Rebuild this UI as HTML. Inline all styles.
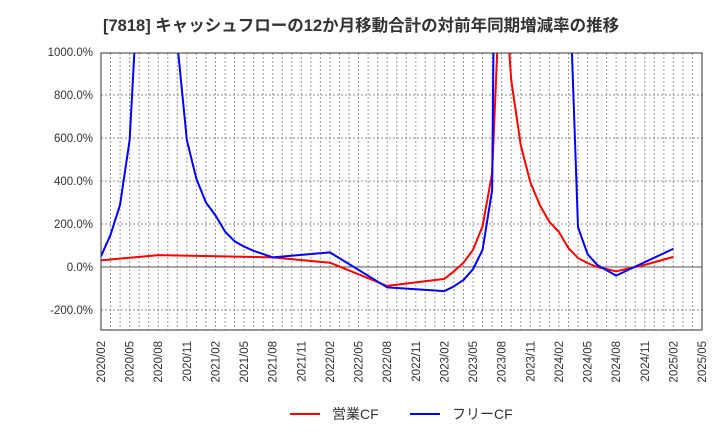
<!DOCTYPE html>
<html><head><meta charset="utf-8"><style>
body{margin:0;background:#fff;}
svg{display:block;font-family:"Liberation Sans","Noto Sans CJK JP",sans-serif;}
</style></head><body>
<svg id="c" width="720" height="440">
<text x="103" y="31" text-anchor="start" font-size="16.5" font-weight="bold" fill="#333">[7818]  キャッシュフローの12か月移動合計の対前年同期増減率の推移</text>
<defs><clipPath id="clip"><rect x="101" y="53" width="601" height="277"/></clipPath></defs>
<g id="grid"></g>
<g id="series" clip-path="url(#clip)"></g>
<rect x="101" y="53" width="601" height="277" fill="none" stroke="#333" stroke-width="1"/>
<g id="axes"></g>
<g>
<line x1="290" y1="414" x2="320" y2="414" stroke="#f00" stroke-width="2"/>
<text x="332" y="419" font-size="14" fill="#333">営業CF</text>
<line x1="410" y1="414" x2="440" y2="414" stroke="#00f" stroke-width="2"/>
<text x="452" y="419" font-size="14" fill="#333">フリーCF</text>
</g>
</svg>
<script>
const yTicks=[1000,800,600,400,200,0,-200];
const yTickLabels=["1000.0%","800.0%","600.0%","400.0%","200.0%","0.0%","-200.0%"];
const xTickLabels=["2020/02","2020/05","2020/08","2020/11","2021/02","2021/05","2021/08","2021/11","2022/02","2022/05","2022/08","2022/11","2023/02","2023/05","2023/08","2023/11","2024/02","2024/05","2024/08","2024/11","2025/02","2025/05"];
// month indices from 2020/02
const opIdx=[0,6,18,24,30,36,37,38,39,40,41,42,43,44,45,46,47,48,49,50,51,52,53,54,57,60];
const opVal=[31,55,45,20,-88,-55,-20,20,80,190,437,1500,870,567,395,288,210,163,88,42,18,0,-10,-20,10,47];
const fcfIdx=[0,1,2,3,4,6,8,9,10,11,12,13,14,15,16,17,18,24,30,36,37,38,39,40,41,42,49,50,51,52,53,54,60];
const fcfVal=[50,150,290,590,1410,1500,1040,590,410,300,240,165,120,95,75,60,45,68,-95,-112,-90,-60,-10,80,358,5000,1465,186,60,10,-15,-40,85];
const X0=101,W=601,Y0=53,H=277;
const NM=63;
const xs=i=>X0+i*W/NM;
const ys=v=>267-v*0.215;
const NS="http://www.w3.org/2000/svg";
function mk(t,a,p){const e=document.createElementNS(NS,t);for(const k in a)e.setAttribute(k,a[k]);p.appendChild(e);return e;}
const grid=document.getElementById('grid'),axes=document.getElementById('axes'),ser=document.getElementById('series');
for(let m=1;m<NM;m++){const l=mk('line',{x1:xs(m),x2:xs(m),y1:Y0,y2:Y0+H,stroke:'#999','stroke-width':1,'stroke-dasharray':'2,2'},grid);

}
yTicks.forEach(v=>{if(v===0||v===1000)return;const l=mk('line',{x1:X0,x2:X0+W,y1:ys(v),y2:ys(v),stroke:'#888','stroke-width':1,'stroke-dasharray':'2,2'},grid);

});
const z=mk('line',{x1:X0,x2:X0+W,y1:ys(0),y2:ys(0),stroke:'#555','stroke-width':1},grid);


yTicks.forEach((v,i)=>{const t=mk('text',{x:93,y:ys(v)+4,'text-anchor':'end','font-size':11.5,fill:'#333'},axes);t.textContent=yTickLabels[i];

});
xTickLabels.forEach((s,i)=>{const x=xs(i*3)+4;const t=mk('text',{x:0,y:0,transform:`translate(${x},341) rotate(-90)`,'text-anchor':'end','font-size':11.5,fill:'#333'},axes);t.textContent=s;

});
function line(idx,val,color,name){const p=mk('polyline',{points:idx.map((m,i)=>xs(m)+','+ys(val[i])).join(' '),fill:'none',stroke:color,'stroke-width':2,'stroke-linejoin':'round'},ser);

}
line(opIdx,opVal,'#f00','operating-cf-line');
line(fcfIdx,fcfVal,'#00f','free-cf-line');
</script>
</body></html>
